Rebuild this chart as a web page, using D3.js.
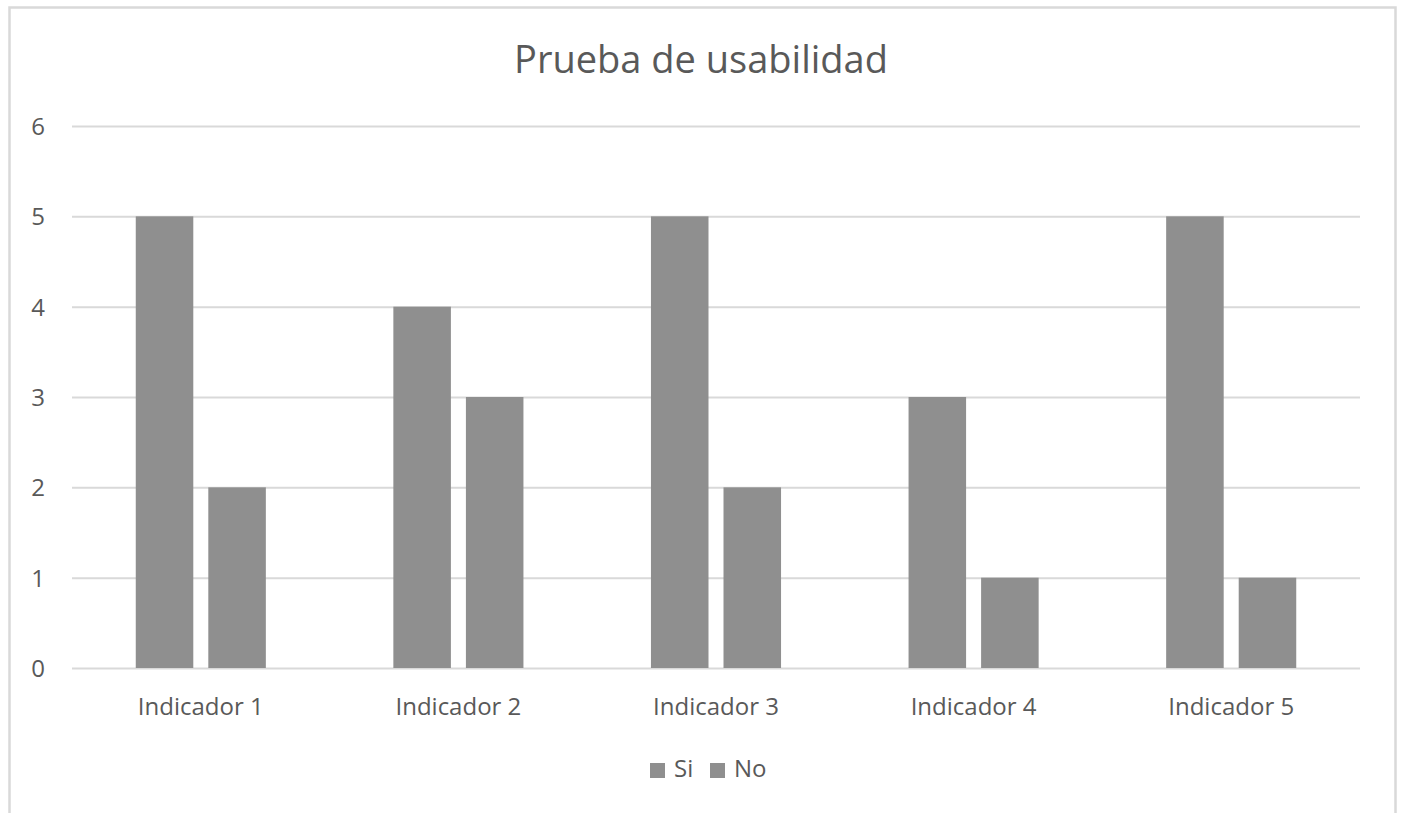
<!DOCTYPE html>
<html>
<head>
<meta charset="utf-8">
<script src="https://cdn.jsdelivr.net/npm/d3@7/dist/d3.min.js"></script>
<style>
  html, body { margin: 0; padding: 0; background: #ffffff; }
  svg { display: block; }
  text { font-family: "Open Sans", "Noto Sans", sans-serif; fill: #595959; }
</style>
</head>
<body>
<svg id="chart" width="1402" height="813"></svg>
<script>
// Chart data
const title = "Prueba de usabilidad";
const categories = ["Indicador 1", "Indicador 2", "Indicador 3", "Indicador 4", "Indicador 5"];
const seriesNames = ["Si", "No"];
const siValues = [5, 4, 5, 3, 5];
const noValues = [2, 3, 2, 1, 1];
const yTicks = [0, 1, 2, 3, 4, 5, 6];

const seriesValues = [siValues, noValues];
const rows = categories.map((c, i) => ({ category: c, values: seriesNames.map((s, j) => ({ series: s, value: seriesValues[j][i] })) }));

const svg = d3.select("#chart");
const barColor = "#8f8f8f";
const gridColor = "#d9d9d9";

// Chart frame (open at the bottom, extends past the visible area)
svg.append("rect")
  .attr("x", 9.5).attr("y", 7.5)
  .attr("width", 1386).attr("height", 900)
  .attr("fill", "none")
  .attr("stroke", gridColor)
  .attr("stroke-width", 2.5);

const plot = { left: 72, right: 1360, top: 126, bottom: 668 };

const x = d3.scaleBand()
  .domain(categories)
  .range([plot.left, plot.right])
  .paddingInner(0.495)
  .paddingOuter(0.2475);

const xs = d3.scaleBand()
  .domain(seriesNames)
  .range([0, x.bandwidth()])
  .paddingInner(0.207)
  .paddingOuter(0);

const y = d3.scaleLinear()
  .domain([0, 6])
  .range([plot.bottom, plot.top]);

// Gridlines and value labels
const yAxis = d3.axisLeft(y)
  .tickValues(yTicks)
  .tickSize(-(plot.right - plot.left))
  .tickPadding(27)
  .tickFormat(d3.format("d"));

const gy = svg.append("g")
  .attr("transform", `translate(${plot.left},0)`)
  .call(yAxis);
gy.select(".domain").remove();
gy.selectAll(".tick line").attr("stroke", gridColor).attr("stroke-width", 2);
gy.selectAll(".tick text")
  .attr("fill", "#595959")
  .style("font-size", "24px")
  .attr("dy", "0.35em");

// Bars
const groups = svg.append("g").selectAll("g")
  .data(rows)
  .join("g")
  .attr("transform", d => `translate(${x(d.category)},0)`);

groups.selectAll("rect")
  .data(d => d.values)
  .join("rect")
  .attr("x", d => xs(d.series))
  .attr("width", xs.bandwidth())
  .attr("y", d => y(d.value))
  .attr("height", d => y(0) - y(d.value))
  .attr("fill", barColor);

// Category labels
const xAxis = d3.axisBottom(x).tickSize(0).tickPadding(30);
const gx = svg.append("g")
  .attr("transform", `translate(0,${plot.bottom})`)
  .call(xAxis);
gx.select(".domain").remove();
gx.selectAll(".tick text")
  .attr("fill", "#595959")
  .style("font-size", "24px");

// Title
svg.append("text")
  .attr("x", 701)
  .attr("y", 73)
  .attr("text-anchor", "middle")
  .style("font-size", "38px")
  .text(title);

// Legend
const legend = svg.append("g").attr("transform", "translate(650,763)");
const legendItems = [{ name: seriesNames[0], dx: 0 }, { name: seriesNames[1], dx: 60 }];
const li = legend.selectAll("g")
  .data(legendItems)
  .join("g")
  .attr("transform", d => `translate(${d.dx},0)`);
li.append("rect")
  .attr("width", 15).attr("height", 15)
  .attr("fill", barColor);
li.append("text")
  .attr("x", 24)
  .attr("y", 14)
  .style("font-size", "24px")
  .text(d => d.name);
</script>
</body>
</html>
